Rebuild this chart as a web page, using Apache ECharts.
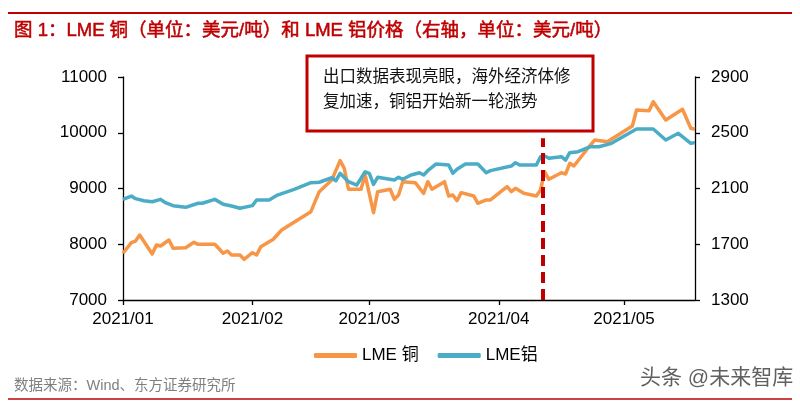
<!DOCTYPE html>
<html>
<head>
<meta charset="utf-8">
<script src="https://cdn.jsdelivr.net/npm/echarts@6/dist/echarts.min.js"></script>
<style>
html,body{margin:0;padding:0;background:#fff;}
#chart{width:800px;height:401px;}
</style>
</head>
<body>
<div id="chart"></div>
<script>
// ---- Data ----
const copperDates = ['2021-01-01','2021-01-03','2021-01-04','2021-01-05','2021-01-08','2021-01-09','2021-01-10','2021-01-12','2021-01-13','2021-01-16','2021-01-18','2021-01-19','2021-01-23','2021-01-25','2021-01-26','2021-01-27','2021-01-29','2021-01-30','2021-02-01','2021-02-02','2021-02-03','2021-02-05','2021-02-06','2021-02-08','2021-02-15','2021-02-17','2021-02-20','2021-02-22','2021-02-23','2021-02-24','2021-02-27','2021-02-28','2021-03-02','2021-03-03','2021-03-06','2021-03-07','2021-03-08','2021-03-09','2021-03-12','2021-03-14','2021-03-15','2021-03-16','2021-03-19','2021-03-20','2021-03-21','2021-03-22','2021-03-23','2021-03-26','2021-03-27','2021-03-29','2021-03-30','2021-04-03','2021-04-04','2021-04-05','2021-04-07','2021-04-10','2021-04-11','2021-04-12','2021-04-13','2021-04-16','2021-04-17','2021-04-18','2021-04-19','2021-04-22','2021-04-24','2021-04-27','2021-05-03','2021-05-04','2021-05-07','2021-05-08','2021-05-11','2021-05-15','2021-05-17','2021-05-18'];
const copperValues = [7838,8028,8058,8166,7825,7987,7969,8076,7927,7938,8035,7999,7999,7838,7879,7807,7807,7730,7848,7807,7956,8046,8089,8256,8584,8943,9152,9499,9362,8986,8986,9242,8566,8943,8986,8806,8883,9122,9104,8914,9122,8986,9122,8866,8883,8781,8925,8866,8735,8794,8794,9032,8943,9004,8914,8866,8973,9301,9165,9283,9260,9452,9404,9691,9870,9840,10121,10408,10396,10557,10229,10421,10080,10062];

const aluminumDates = ['2021-01-01','2021-01-03','2021-01-04','2021-01-06','2021-01-08','2021-01-10','2021-01-11','2021-01-13','2021-01-16','2021-01-19','2021-01-20','2021-01-23','2021-01-25','2021-01-27','2021-01-29','2021-02-01','2021-02-02','2021-02-05','2021-02-07','2021-02-11','2021-02-15','2021-02-17','2021-02-20','2021-02-21','2021-02-22','2021-02-24','2021-02-26','2021-02-28','2021-03-01','2021-03-02','2021-03-03','2021-03-07','2021-03-08','2021-03-09','2021-03-11','2021-03-13','2021-03-14','2021-03-15','2021-03-17','2021-03-20','2021-03-21','2021-03-22','2021-03-24','2021-03-27','2021-03-29','2021-03-30','2021-04-04','2021-04-05','2021-04-06','2021-04-10','2021-04-11','2021-04-12','2021-04-13','2021-04-16','2021-04-17','2021-04-18','2021-04-20','2021-04-23','2021-04-25','2021-04-28','2021-05-04','2021-05-08','2021-05-11','2021-05-14','2021-05-17','2021-05-18'];
const aluminumValues = [2022,2046,2027,2012,2005,2022,2001,1977,1965,1994,1994,2022,1987,1974,1958,1977,2017,2017,2053,2094,2142,2145,2177,2156,2209,2149,2125,2220,2209,2130,2180,2161,2180,2166,2197,2213,2197,2228,2276,2269,2209,2238,2276,2276,2213,2228,2261,2285,2269,2269,2328,2333,2317,2328,2304,2357,2364,2400,2400,2424,2527,2527,2448,2496,2424,2429];

const monthTicks = ['2021-01-01','2021-02-01','2021-03-01','2021-04-01','2021-05-01'];
const xStart = '2021-01-01';
const xEnd = '2021-05-18';
const markerDate = '2021-04-11 10:00';
const markerTop = 9900;

const seriesNames = ['LME 铜', 'LME铝'];
const titleText = '图 1：LME 铜（单位：美元/吨）和 LME 铝价格（右轴，单位：美元/吨）';
const noteLines = ['出口数据表现亮眼，海外经济体修', '复加速，铜铝开始新一轮涨势'];
const sourceText = '数据来源：Wind、东方证券研究所';
const watermarkText = '头条 @未来智库';

// ---- Chart ----
const FONT = "'Liberation Sans', Arial, 'Noto Sans CJK SC', sans-serif";
const toTs = s => Date.UTC(+s.slice(0,4), +s.slice(5,7) - 1, +s.slice(8,10), s.length > 10 ? +s.slice(11,13) : 0);
const pair = (d, v) => d.map((s, i) => [toTs(s), v[i]]);
const pad = n => (n < 10 ? '0' : '') + n;

const chart = echarts.init(document.getElementById('chart'), null, {renderer: 'canvas'});
const axisLineStyle = {color: '#000', width: 1.3};
const tickTs = monthTicks.map(toTs);
const plain = v => String(v);

chart.setOption({
  animation: false,
  backgroundColor: '#fff',
  textStyle: {fontFamily: FONT},
  grid: {left: 123, right: 105, top: 77, bottom: 101},
  legend: {
    left: 309, top: 342,
    itemWidth: 43, itemHeight: 5, itemGap: 19,
    icon: 'roundRect',
    textStyle: {fontSize: 17, color: '#000', fontFamily: FONT},
    data: seriesNames
  },
  xAxis: {
    type: 'value',
    min: toTs(xStart), max: toTs(xEnd),
    axisLine: {show: true, lineStyle: axisLineStyle},
    axisTick: {show: true, length: 5, lineStyle: axisLineStyle, customValues: tickTs},
    axisLabel: {
      customValues: tickTs,
      fontSize: 17, color: '#000', margin: 11, fontFamily: FONT,
      formatter: v => { const d = new Date(v); return d.getUTCFullYear() + '/' + pad(d.getUTCMonth() + 1); }
    },
    splitLine: {show: false}
  },
  yAxis: [
    {
      type: 'value', min: 7000, max: 11000, interval: 1000, position: 'left',
      axisLine: {show: true, lineStyle: axisLineStyle},
      axisTick: {show: true, length: 5, lineStyle: axisLineStyle},
      axisLabel: {fontSize: 17, color: '#000', margin: 16, fontFamily: FONT, formatter: plain},
      splitLine: {show: false}
    },
    {
      type: 'value', min: 1300, max: 2900, interval: 400, position: 'right',
      axisLine: {show: true, lineStyle: axisLineStyle},
      axisTick: {show: true, length: 5, lineStyle: axisLineStyle},
      axisLabel: {fontSize: 17, color: '#000', margin: 16, fontFamily: FONT, formatter: plain},
      splitLine: {show: false}
    }
  ],
  series: [
    {
      name: seriesNames[0], type: 'line', yAxisIndex: 0,
      data: pair(copperDates, copperValues),
      showSymbol: false, symbol: 'none',
      color: '#f79646',
      lineStyle: {width: 3.5, color: '#f79646', join: 'round'},
      markLine: {
        silent: true, symbol: ['none', 'none'],
        label: {show: false},
        lineStyle: {color: '#c00000', width: 4, type: [11, 6]},
        data: [[{coord: [toTs(markerDate), 7000]}, {coord: [toTs(markerDate), markerTop]}]]
      }
    },
    {
      name: seriesNames[1], type: 'line', yAxisIndex: 1,
      data: pair(aluminumDates, aluminumValues),
      showSymbol: false, symbol: 'none',
      color: '#4bacc6',
      lineStyle: {width: 3.5, color: '#4bacc6', join: 'round'}
    }
  ],
  graphic: [
    {type: 'line', shape: {x1: 8, y1: 13, x2: 792, y2: 13}, style: {stroke: '#c00000', lineWidth: 2}},
    {type: 'text', x: 14, y: 31, style: {text: titleText, font: '18.5px ' + FONT, fill: '#c00000', stroke: '#c00000', lineWidth: 0.5, verticalAlign: 'middle'}},
    {type: 'rect', shape: {x: 307, y: 56, width: 286, height: 75}, style: {fill: '#fff', stroke: '#c00000', lineWidth: 3}, z: 100},
    {type: 'text', x: 323, y: 77, style: {text: noteLines[0], font: '16.5px ' + FONT, fill: '#111', verticalAlign: 'middle'}, z: 101},
    {type: 'text', x: 323, y: 102, style: {text: noteLines[1], font: '16.5px ' + FONT, fill: '#111', verticalAlign: 'middle'}, z: 101},
    {type: 'text', x: 14, y: 386, style: {text: sourceText, font: '14.5px ' + FONT, fill: '#7f7f7f', verticalAlign: 'middle'}},
    {type: 'text', x: 640, y: 378, style: {text: watermarkText, font: '21px ' + FONT, fill: '#444', stroke: '#fff', lineWidth: 2, verticalAlign: 'middle', opacity: 0.85}},
    {type: 'line', shape: {x1: 8, y1: 399, x2: 792, y2: 399}, style: {stroke: '#c00000', lineWidth: 1.5}}
  ]
});
</script>
</body>
</html>
